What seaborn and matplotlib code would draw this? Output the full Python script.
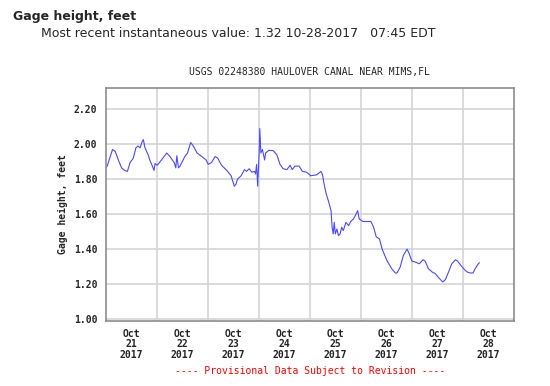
import pandas as pd
import numpy as np
import matplotlib
matplotlib.use('Agg')
import matplotlib.pyplot as plt
import matplotlib.dates as mdates
import seaborn as sns

# gage height readings
times = [
    '2017-10-21 00:00', '2017-10-21 00:45', '2017-10-21 03:15', '2017-10-21 04:30',
    '2017-10-21 06:00', '2017-10-21 07:30', '2017-10-21 09:00', '2017-10-21 10:15',
    '2017-10-21 11:30', '2017-10-21 13:00', '2017-10-21 14:15', '2017-10-21 15:15',
    '2017-10-21 16:15', '2017-10-21 17:00', '2017-10-21 17:45', '2017-10-21 18:30',
    '2017-10-21 20:00', '2017-10-21 20:45', '2017-10-21 22:00', '2017-10-21 22:45',
    '2017-10-21 23:15', '2017-10-22 00:15', '2017-10-22 02:15', '2017-10-22 04:45',
    '2017-10-22 06:15', '2017-10-22 08:15', '2017-10-22 09:00', '2017-10-22 09:30',
    '2017-10-22 10:15', '2017-10-22 11:00', '2017-10-22 13:15', '2017-10-22 14:30',
    '2017-10-22 16:00', '2017-10-22 17:15', '2017-10-22 19:00', '2017-10-22 21:15',
    '2017-10-22 23:15', '2017-10-23 00:15', '2017-10-23 01:45', '2017-10-23 03:30',
    '2017-10-23 04:45', '2017-10-23 06:30', '2017-10-23 09:00', '2017-10-23 11:00',
    '2017-10-23 12:30', '2017-10-23 13:15', '2017-10-23 14:00', '2017-10-23 15:45',
    '2017-10-23 17:15', '2017-10-23 18:15', '2017-10-23 19:30', '2017-10-23 20:45',
    '2017-10-23 22:00', '2017-10-23 22:30', '2017-10-23 23:00', '2017-10-23 23:30',
    '2017-10-24 00:15', '2017-10-24 00:30', '2017-10-24 01:00', '2017-10-24 01:45',
    '2017-10-24 02:45', '2017-10-24 03:15', '2017-10-24 04:45', '2017-10-24 06:45',
    '2017-10-24 08:30', '2017-10-24 10:00', '2017-10-24 11:30', '2017-10-24 13:15',
    '2017-10-24 14:45', '2017-10-24 15:45', '2017-10-24 17:00', '2017-10-24 19:00',
    '2017-10-24 20:30', '2017-10-24 22:30', '2017-10-25 00:30', '2017-10-25 03:15',
    '2017-10-25 05:15', '2017-10-25 06:00', '2017-10-25 06:45', '2017-10-25 07:45',
    '2017-10-25 08:45', '2017-10-25 10:00', '2017-10-25 10:30', '2017-10-25 11:00',
    '2017-10-25 11:30', '2017-10-25 12:00', '2017-10-25 12:45', '2017-10-25 13:30',
    '2017-10-25 14:15', '2017-10-25 15:00', '2017-10-25 15:45', '2017-10-25 17:00',
    '2017-10-25 18:15', '2017-10-25 19:15', '2017-10-25 20:30', '2017-10-25 21:45',
    '2017-10-25 22:30', '2017-10-25 23:15', '2017-10-26 01:00', '2017-10-26 02:45',
    '2017-10-26 04:45', '2017-10-26 06:00', '2017-10-26 07:15', '2017-10-26 08:45',
    '2017-10-26 10:00', '2017-10-26 12:15', '2017-10-26 14:30', '2017-10-26 16:15',
    '2017-10-26 17:00', '2017-10-26 18:30', '2017-10-26 20:00', '2017-10-26 21:45',
    '2017-10-26 22:45', '2017-10-27 00:00', '2017-10-27 01:30', '2017-10-27 03:30',
    '2017-10-27 05:15', '2017-10-27 06:15', '2017-10-27 07:45', '2017-10-27 09:30',
    '2017-10-27 11:00', '2017-10-27 12:30', '2017-10-27 14:30', '2017-10-27 15:45',
    '2017-10-27 17:15', '2017-10-27 18:45', '2017-10-27 20:30', '2017-10-27 21:30',
    '2017-10-27 23:00', '2017-10-28 00:45', '2017-10-28 02:00', '2017-10-28 03:30',
    '2017-10-28 04:45', '2017-10-28 05:45', '2017-10-28 07:00', '2017-10-28 07:45',
]
gage = [
    1.865, 1.875, 1.97, 1.96,
    1.91, 1.865, 1.85, 1.845,
    1.895, 1.92, 1.98, 1.99,
    1.98, 2.01, 2.027, 1.98,
    1.94, 1.91, 1.875, 1.85,
    1.89, 1.88, 1.91, 1.95,
    1.93, 1.895, 1.865, 1.935,
    1.865, 1.875, 1.93, 1.95,
    2.01, 1.99, 1.95, 1.93,
    1.91, 1.885, 1.895, 1.93,
    1.92, 1.88, 1.85, 1.82,
    1.76, 1.77, 1.80, 1.82,
    1.855, 1.845, 1.86, 1.84,
    1.845, 1.83, 1.885, 1.76,
    1.97, 2.09, 1.95, 1.97,
    1.91, 1.95, 1.965, 1.964,
    1.94, 1.885, 1.86, 1.855,
    1.88, 1.855, 1.875, 1.875,
    1.845, 1.84, 1.82, 1.825,
    1.845, 1.825, 1.77, 1.715,
    1.676, 1.62, 1.525, 1.487,
    1.553, 1.487, 1.515, 1.477,
    1.487, 1.525, 1.506, 1.553,
    1.534, 1.558, 1.572, 1.60,
    1.62, 1.572, 1.558, 1.558,
    1.558, 1.525, 1.47, 1.458,
    1.40, 1.335, 1.288, 1.263,
    1.263, 1.297, 1.364, 1.40,
    1.373, 1.331, 1.326, 1.316,
    1.339, 1.331, 1.288, 1.269,
    1.26, 1.237, 1.212, 1.225,
    1.269, 1.316, 1.339, 1.331,
    1.307, 1.282, 1.269, 1.263,
    1.263, 1.288, 1.312, 1.322,
]

day_starts = ['2017-10-21', '2017-10-22', '2017-10-23', '2017-10-24',
              '2017-10-25', '2017-10-26', '2017-10-27', '2017-10-28', '2017-10-29']
day_labels = ['Oct\n21\n2017', 'Oct\n22\n2017', 'Oct\n23\n2017', 'Oct\n24\n2017',
              'Oct\n25\n2017', 'Oct\n26\n2017', 'Oct\n27\n2017', 'Oct\n28\n2017']
y_ticks = [1.00, 1.20, 1.40, 1.60, 1.80, 2.00, 2.20]

df = pd.DataFrame({'time': pd.to_datetime(times), 'gage': gage})

sns.set_style('white')
mono = 'DejaVu Sans Mono'

fig = plt.figure(figsize=(5.5, 3.86), dpi=100)
ax = fig.add_axes([0.192, 0.1692, 0.7425, 0.6036])

sns.lineplot(data=df, x='time', y='gage', ax=ax, color='#4a4aff', linewidth=0.8)

days = pd.to_datetime(day_starts)
ax.set_xlim(days[0], days[-1])
ax.set_ylim(0.99, 2.324)

# gridlines at midnight, labels at noon
ax.set_xticks(days[1:-1])
ax.set_xticklabels([])
noon = days[:-1] + pd.Timedelta(hours=12)
ax.set_xticks(noon, minor=True)
ax.set_xticklabels(day_labels, minor=True, fontfamily=mono, fontsize=7,
                   fontweight='bold', linespacing=1.05)
ax.set_yticks(y_ticks)
ax.set_yticklabels([f'{v:.2f}' for v in y_ticks], fontfamily=mono, fontsize=7,
                   fontweight='bold')
ax.tick_params(axis='both', which='both', length=0)
ax.tick_params(axis='y', pad=6)
ax.tick_params(axis='x', which='minor', pad=6, colors='#222222')

ax.grid(True, which='major', color='#d4d4d4', linewidth=1.2)
ax.set_axisbelow(True)
for s in ax.spines.values():
    s.set_visible(True)
    s.set_color('#8c8c8c')
    s.set_linewidth(1.2)

ax.set_xlabel('')
ax.set_ylabel('Gage height, feet', fontfamily=mono, fontsize=7, fontweight='bold',
              labelpad=4)
ax.set_title('USGS 02248380 HAULOVER CANAL NEAR MIMS,FL', fontfamily=mono,
             fontsize=7, pad=9)

fig.text(0.024, 0.958, 'Gage height, feet', fontsize=9, fontweight='bold',
         va='center', ha='left')
fig.text(0.075, 0.914, 'Most recent instantaneous value: 1.32 10-28-2017   07:45 EDT',
         fontsize=9, va='center', ha='left')
fig.text(0.5635, 0.039, '---- Provisional Data Subject to Revision ----',
         fontfamily=mono, fontsize=7, color='#ff0000', ha='center', va='center')

fig.savefig('out.png', dpi=100)
